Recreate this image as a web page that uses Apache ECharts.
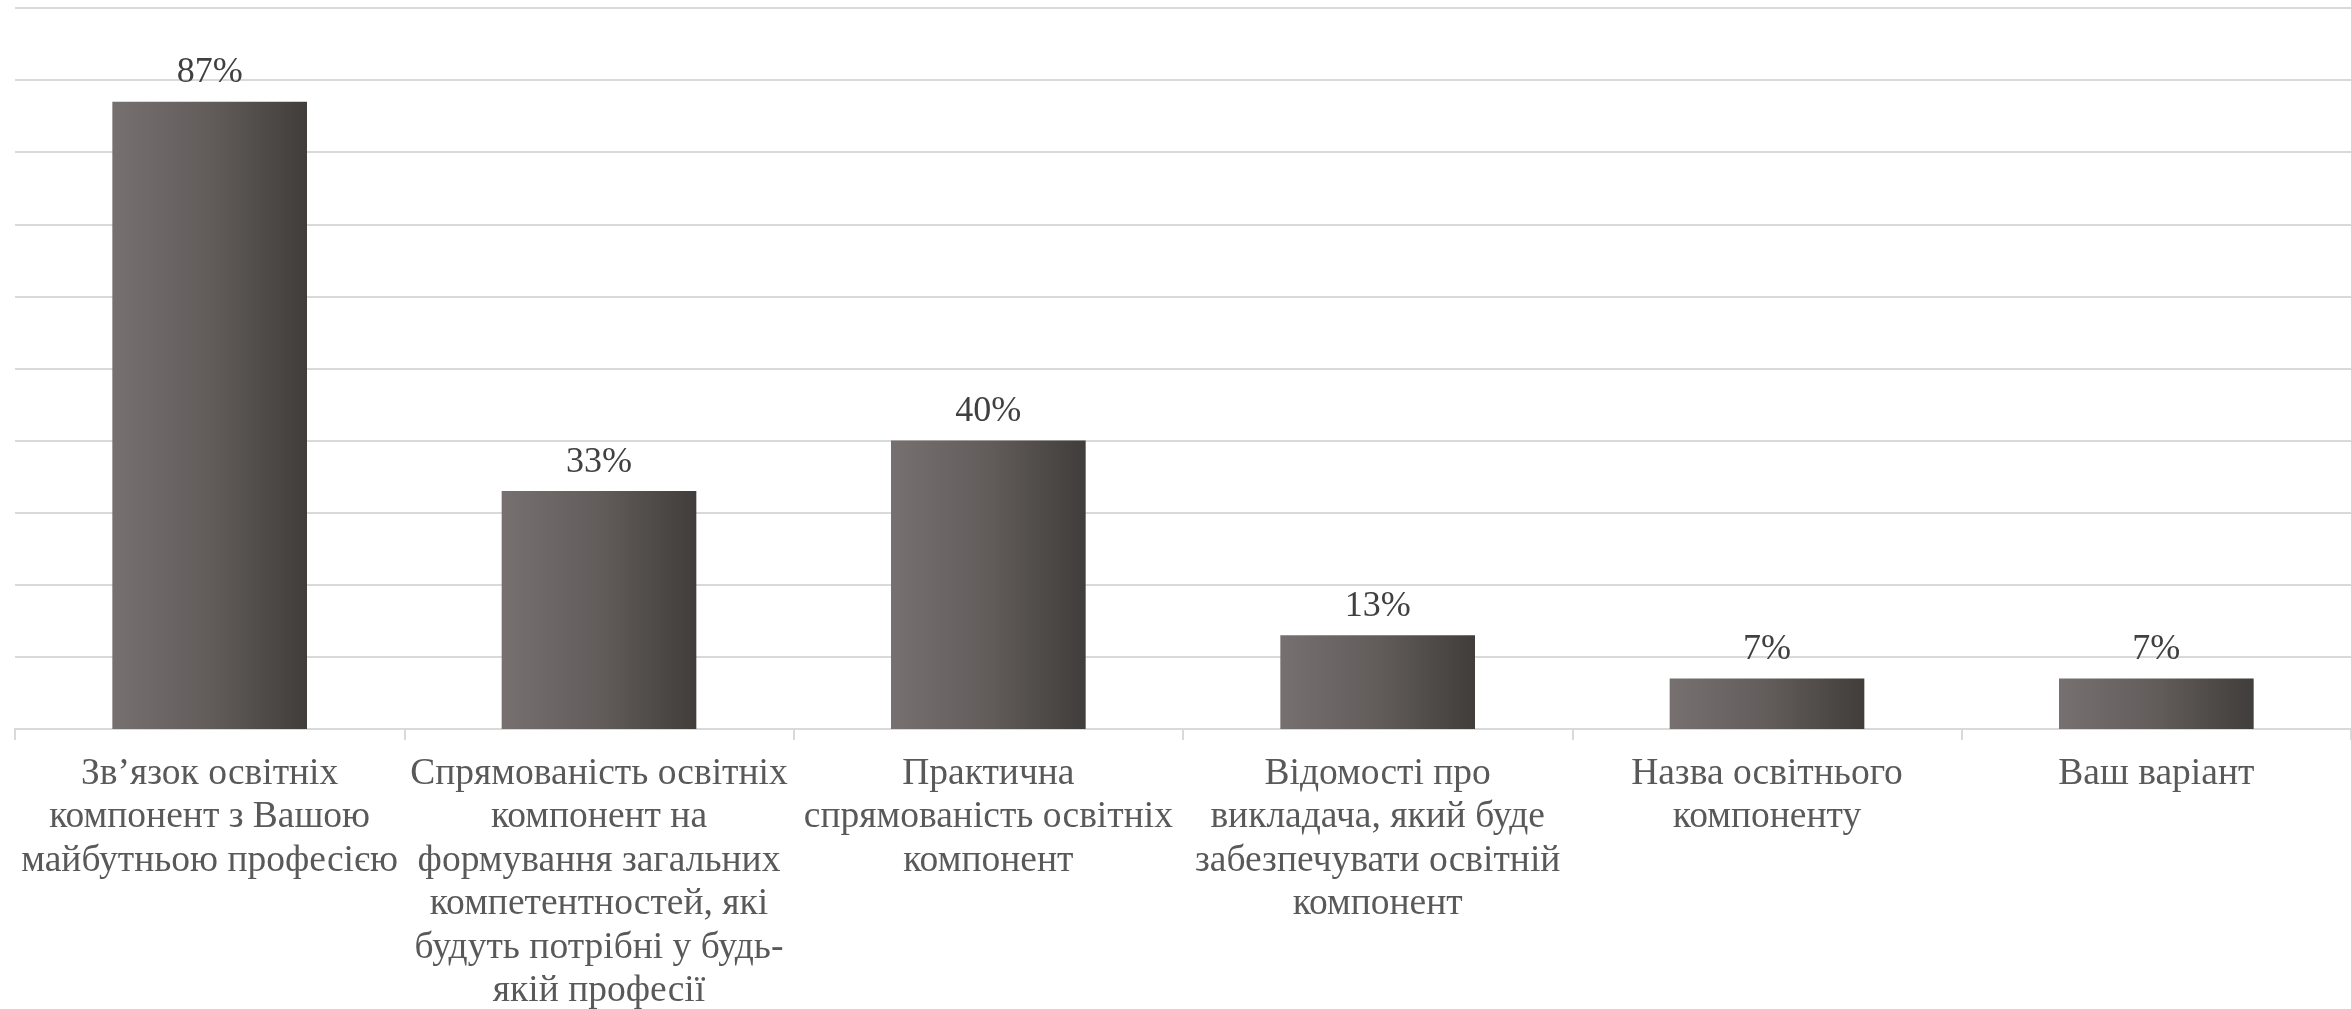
<!DOCTYPE html>
<html>
<head>
<meta charset="utf-8">
<script src="https://cdn.jsdelivr.net/npm/echarts@6/dist/echarts.min.js"></script>
<style>
  html, body { margin: 0; padding: 0; background: #fff; }
  #chart { width: 2351px; height: 1009px; }
</style>
</head>
<body>
<div id="chart"></div>
<script>
const categories = [
  'Зв’язок освітніх\nкомпонент з Вашою\nмайбутньою професією',
  'Спрямованість освітніх\nкомпонент на\nформування загальних\nкомпетентностей, які\nбудуть потрібні у будь-\nякій професії',
  'Практична\nспрямованість освітніх\nкомпонент',
  'Відомості про\nвикладача, який буде\nзабезпечувати освітній\nкомпонент',
  'Назва освітнього\nкомпоненту',
  'Ваш варіант'
];
const percentValues = [87, 33, 40, 13, 7, 7];

const FONT = '"Liberation Serif", "Times New Roman", serif';

const chart = echarts.init(document.getElementById('chart'));
chart.setOption({
  animation: false,
  backgroundColor: '#ffffff',
  grid: { left: 15, right: 0, top: 8, bottom: 280, containLabel: false, outerBoundsMode: 'none' },
  xAxis: {
    type: 'category',
    data: categories,
    axisLine: { show: true, lineStyle: { color: '#d9d9d9', width: 2 } },
    axisTick: { show: true, length: 11, lineStyle: { color: '#d9d9d9', width: 2 } },
    axisLabel: {
      interval: 0,
      margin: 23,
      color: '#595959',
      fontFamily: FONT,
      fontSize: 37.5,
      lineHeight: 43.5,
      align: 'center'
    }
  },
  yAxis: {
    type: 'value',
    min: 0,
    max: 100,
    interval: 10,
    axisLabel: { show: false },
    axisLine: { show: false },
    axisTick: { show: false },
    splitLine: { show: true, lineStyle: { color: '#d9d9d9', width: 2 } }
  },
  series: [{
    type: 'bar',
    data: percentValues,
    barWidth: '50%',
    itemStyle: {
      color: new echarts.graphic.LinearGradient(0, 0, 1, 0, [
        { offset: 0, color: '#767170' },
        { offset: 0.5, color: '#625d5b' },
        { offset: 1, color: '#413d3b' }
      ])
    },
    label: {
      show: true,
      position: 'top',
      distance: 11,
      formatter: '{c}%',
      color: '#404040',
      fontFamily: FONT,
      fontSize: 36
    }
  }]
});
</script>
</body>
</html>
